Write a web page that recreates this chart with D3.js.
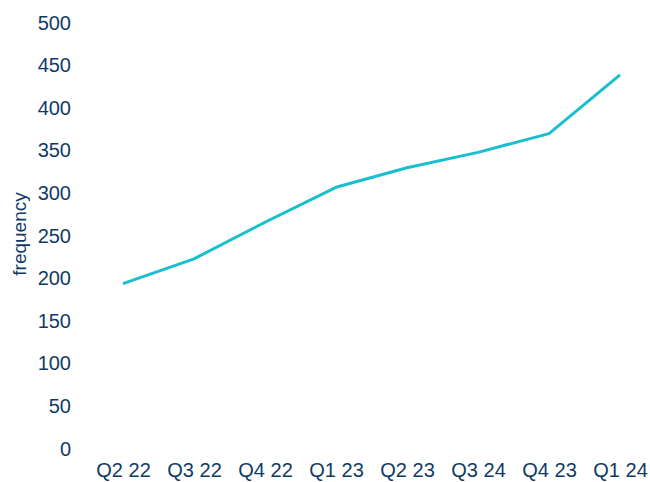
<!DOCTYPE html>
<html>
<head>
<meta charset="utf-8">
<script src="https://cdn.jsdelivr.net/npm/d3@7"></script>
<style>
  html, body { margin: 0; padding: 0; background: #fff; }
  svg { display: block; font-family: "Liberation Sans", Arial, sans-serif; }
  .axis path, .axis line { display: none; }
  .axis text { fill: #103a66; font-size: 20px; }
</style>
</head>
<body>
<svg id="chart" width="650" height="482"></svg>
<script>
// Quarterly frequency counts
const quarters = ["Q2 22", "Q3 22", "Q4 22", "Q1 23", "Q2 23", "Q3 24", "Q4 23", "Q1 24"];
const frequency = [193, 222, 265, 306, 329, 347, 369, 438];
const yTicks = [0, 50, 100, 150, 200, 250, 300, 350, 400, 450, 500];

const svg = d3.select("#chart");

const x = d3.scalePoint().domain(quarters).range([123, 620]);
const y = d3.scaleLinear().domain([0, 500]).range([448, 22]);

// y axis: labels only
svg.append("g")
  .attr("class", "axis")
  .attr("transform", "translate(71,0)")
  .call(d3.axisLeft(y).tickValues(yTicks).tickSize(0).tickPadding(0))
  .selectAll("text")
  .attr("dy", "0.35em");

// x axis: labels only
svg.append("g")
  .attr("class", "axis")
  .attr("transform", "translate(0,462)")
  .call(d3.axisBottom(x).tickSize(0).tickPadding(0))
  .selectAll("text")
  .attr("dy", "0.75em");

// y axis title
svg.append("text")
  .attr("transform", "translate(26,234) rotate(-90)")
  .attr("text-anchor", "middle")
  .attr("fill", "#103a66")
  .style("font-size", "19px")
  .text("frequency");

// series line
const line = d3.line()
  .x((d, i) => x(quarters[i]))
  .y(d => y(d));

svg.append("path")
  .datum(frequency)
  .attr("fill", "none")
  .attr("stroke", "#19bfcf")
  .attr("stroke-width", 3)
  .attr("stroke-linejoin", "round")
  .attr("d", line);
</script>
</body>
</html>
